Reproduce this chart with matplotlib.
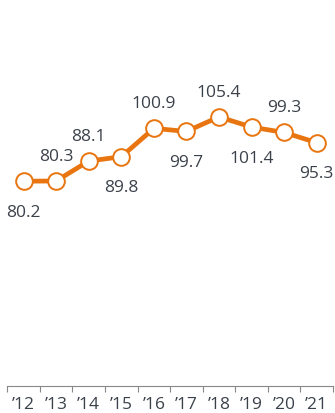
import matplotlib
matplotlib.use("Agg")
import matplotlib.pyplot as plt

years = ["’12", "’13", "’14", "’15", "’16", "’17", "’18", "’19", "’20", "’21"]
values = [80.2, 80.3, 88.1, 89.8, 100.9, 99.7, 105.4, 101.4, 99.3, 95.3]
label_above = [False, True, True, False, True, False, True, False, True, False]

orange = "#E8750F"
text_color = "#3B414A"

plt.rcParams["font.family"] = ["Open Sans", "DejaVu Sans"]

fig = plt.figure(figsize=(3.35, 4.14), dpi=100)
ax = fig.add_axes([7.3 / 335, (414 - 387) / 414, (333 - 7.3) / 335, (387 - 4) / 414])

x = list(range(len(values)))
ax.plot(x, values, color=orange, lw=3.4, marker="o", markersize=12,
        markerfacecolor="white", markeredgecolor=orange, markeredgewidth=1.4,
        solid_capstyle="round", zorder=3, clip_on=False)

for xi, v, up in zip(x, values, label_above):
    ax.annotate(f"{v:.1f}", (xi, v), xytext=(0, 18 if up else -22),
                textcoords="offset points", ha="center", va="center",
                fontsize=12.5, color=text_color, annotation_clip=False)

ax.set_xlim(-0.5, len(values) - 0.5)
ax.set_ylim(0, 150)

for s in ["top", "right", "left"]:
    ax.spines[s].set_visible(False)
ax.spines["bottom"].set_color("#888888")
ax.spines["bottom"].set_linewidth(0.8)

ax.set_yticks([])
ax.set_xticks([i - 0.5 for i in range(len(values) + 1)])
ax.set_xticklabels([])
ax.set_xticks(x, minor=True)
ax.set_xticklabels(years, minor=True)
ax.tick_params(axis="x", which="major", length=4, width=0.8, color="#888888")
ax.tick_params(axis="x", which="minor", length=0, pad=7, labelsize=12.5,
               labelcolor=text_color)

fig.savefig("out.png", dpi=100)
